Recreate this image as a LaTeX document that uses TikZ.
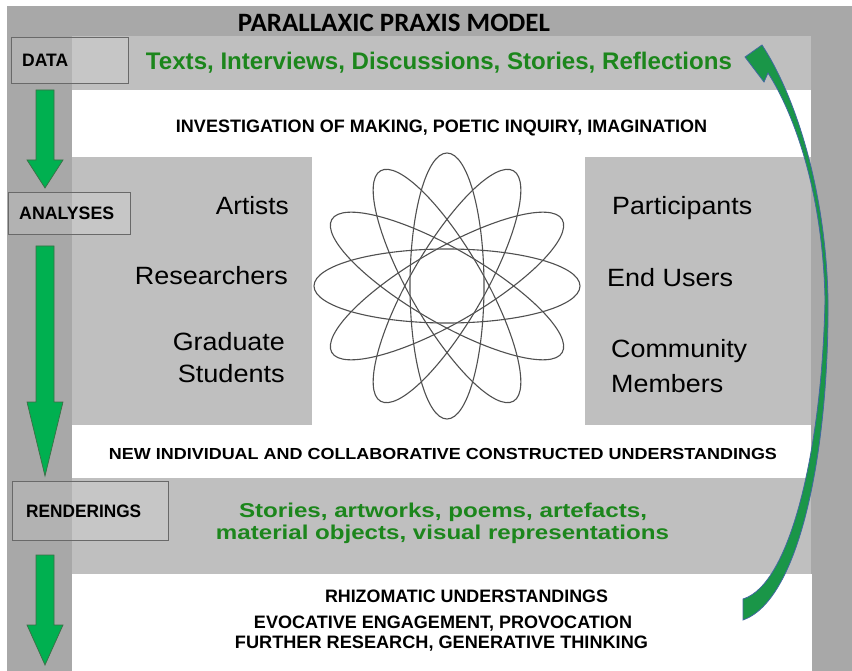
\documentclass[tikz,border=0pt]{standalone}
\usepackage{fontspec}
\setmainfont{Liberation Sans}
\newfontfamily\titlefont{Carlito}
\usepackage{graphicx}
\newcommand{\fw}[2]{\resizebox{#1pt}{\height}{#2}}
\newcommand{\blockarrow}[4]{% x, ytop, yhead, ytip
  \filldraw[greenarrow] (#1-9,#2) -- (#1+9,#2) -- (#1+9,#3) -- (#1+18,#3) -- (#1,#4) -- (#1-18,#3) -- (#1-9,#3) -- cycle;}
\definecolor{bgdark}{RGB}{168,168,168}
\definecolor{bglight}{RGB}{191,191,191}
\definecolor{greentext}{RGB}{28,134,28}
\definecolor{arrowgreen}{RGB}{0,176,80}
\definecolor{arrowline}{RGB}{60,110,70}
\definecolor{curvegreen}{RGB}{26,150,72}
\definecolor{curveline}{RGB}{65,105,160}
\definecolor{boxline}{RGB}{105,105,105}
\definecolor{orbitc}{RGB}{80,80,80}
\tikzset{
  darkbg/.style={fill=bgdark},
  lightbg/.style={fill=bglight},
  whitebg/.style={fill=white},
  orbit/.style={draw=orbitc, line width=1.1pt},
  labelbox/.style={draw=boxline, line width=0.9pt, fill=white, fill opacity=0.12, text opacity=1, inner sep=0, anchor=north west},
  greenarrow/.style={fill=arrowgreen, draw=arrowline, line width=0.7pt},
  curvearrow/.style={fill=curvegreen, draw=curveline, line width=0.8pt},
  boxtext/.style={font=\bfseries\fontsize{18}{18}\selectfont, inner sep=0, anchor=base west},
  headtext/.style={font=\bfseries\fontsize{18}{18}\selectfont, inner sep=0, anchor=base},
  greenhead/.style={font=\bfseries\fontsize{20}{20}\selectfont, text=greentext, inner sep=0, anchor=base},
  roletext/.style={font=\fontsize{25}{25}\selectfont, inner sep=0},
}
\begin{document}
\begin{tikzpicture}[x=1pt,y=-1pt]
\useasboundingbox (0,0) rectangle (852,671);
% backgrounds
\fill[white] (0,0) rectangle (852,671);
\fill[darkbg] (7,6) rectangle (852,671);
\fill[lightbg] (72,36) rectangle (811,574);
\fill[whitebg] (72,90) rectangle (811,157);
\fill[whitebg] (312,157) rectangle (585,425);
\fill[whitebg] (72,425) rectangle (811,478);
\fill[whitebg] (72,574) rectangle (812,671);
% orbits
\coordinate (star) at (447,286);
\foreach \a in {0,30,60,90,120,150}
  \draw[orbit, rotate around={\a:(star)}] (star) ellipse [x radius=133, y radius=37];
% texts
\node[inner sep=0, anchor=base, font=\titlefont\bfseries\fontsize{26.5}{26.5}\selectfont] (title) at (394,32) {\fw{312}{PARALLAXIC PRAXIS MODEL}};
\node[inner sep=0, anchor=base, text=greentext, font=\bfseries\fontsize{24}{24}\selectfont] (data-text) at (439,70) {\fw{586}{Texts, Interviews, Discussions, Stories, Reflections}};
\node[headtext] (invest) at (441.5,133) {\fw{531}{INVESTIGATION OF MAKING, POETIC INQUIRY, IMAGINATION}};
\node[roletext, anchor=base east] (artists) at (289,215) {\fw{73}{Artists}};
\node[roletext, anchor=base east] (researchers) at (288,285) {\fw{153}{Researchers}};
\node[roletext, anchor=base east] (graduate) at (285,350) {\fw{112}{Graduate}};
\node[roletext, anchor=base east] (students) at (285,382) {\fw{107}{Students}};
\node[roletext, anchor=base west] (participants) at (612,215) {\fw{140}{Participants}};
\node[roletext, anchor=base west] (endusers) at (607,287) {\fw{126}{End Users}};
\node[roletext, anchor=base west] (community) at (611,357) {\fw{136}{Community}};
\node[roletext, anchor=base west] (members) at (611,392) {\fw{112}{Members}};
\node[inner sep=0, anchor=base, font=\bfseries\fontsize{16}{16}\selectfont] (newund) at (443,459) {\fw{668}{NEW INDIVIDUAL AND COLLABORATIVE CONSTRUCTED UNDERSTANDINGS}};
\node[greenhead] (render1) at (443,517) {\fw{408}{Stories, artworks, poems, artefacts,}};
\node[greenhead] (render2) at (442.5,539) {\fw{453}{material objects, visual representations}};
\node[headtext] (rhizo) at (466.5,602) {\fw{283}{RHIZOMATIC UNDERSTANDINGS}};
\node[headtext] (evoc) at (443,628) {\fw{378}{EVOCATIVE ENGAGEMENT, PROVOCATION}};
\node[headtext] (further) at (441.5,648) {\fw{413}{FURTHER RESEARCH, GENERATIVE THINKING}};
% left flow arrows
\blockarrow{45}{90}{160}{188}
\blockarrow{45}{246}{402}{476}
\blockarrow{45}{555}{625}{665}
% curved return arrow
\filldraw[curvearrow] (762,45) .. controls (795,95) and (826,190) .. (828,300)
  .. controls (829,450) and (800,600) .. (743,620) -- (743,599)
  .. controls (790,585) and (822,450) .. (825,300)
  .. controls (823,195) and (795,115) .. (768,73) -- (764,82) -- (745,57) -- cycle;
% stage boxes
\node[labelbox, minimum width=117pt, minimum height=46pt] (databox) at (11,37) {};
\node[boxtext] (datalabel) at (22,67) {\fw{46}{DATA}};
\node[labelbox, minimum width=122pt, minimum height=42pt] (analysesbox) at (8,192) {};
\node[boxtext] (analyseslabel) at (19,220) {\fw{95}{ANALYSES}};
\node[labelbox, minimum width=156pt, minimum height=59pt] (renderbox) at (12,481) {};
\node[boxtext] (renderlabel) at (26,517) {\fw{115}{RENDERINGS}};
\end{tikzpicture}
\end{document}
